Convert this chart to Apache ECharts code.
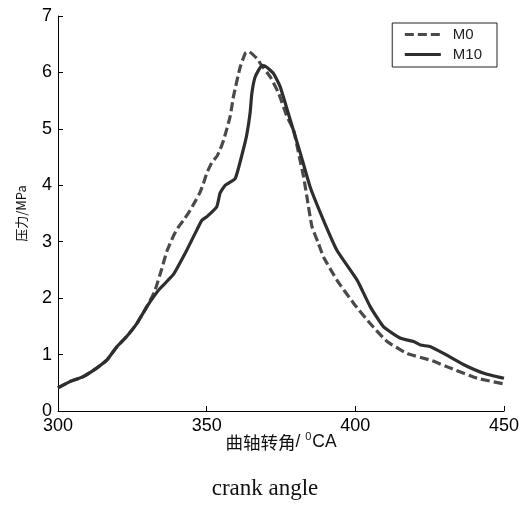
<!DOCTYPE html>
<html>
<head>
<meta charset="utf-8">
<script src="https://cdn.jsdelivr.net/npm/echarts@6/dist/echarts.min.js"></script>
<style>
html,body{margin:0;padding:0;background:#fff;}
#chart{width:530px;height:507px;}
</style>
</head>
<body>
<div id="chart"></div>
<script>
var seriesNames = ['M0', 'M10'];
var xTicks = [300, 350, 400, 450];
var yTicks = [0, 1, 2, 3, 4, 5, 6, 7];

var m0Angle = [300, 304, 308.5, 313, 316.4, 319.8, 323.1, 326.5, 329.9, 332.5, 334.9, 336.6, 338.8, 340.5, 342.2, 344, 346.1, 347.8, 348.9, 350, 351.7, 353.4, 354.5, 355.7, 357.9, 359, 361.3, 363, 364.1, 367.4, 368, 371.4, 374.2, 377, 379.2, 381, 382.6, 383.7, 385.4, 387.6, 389.3, 393.8, 399.4, 405, 410.7, 417.4, 425.3, 432, 441, 450];
var m0Pressure = [0.41, 0.52, 0.61, 0.76, 0.90, 1.14, 1.32, 1.55, 1.85, 2.12, 2.52, 2.83, 3.10, 3.26, 3.38, 3.52, 3.71, 3.88, 4.03, 4.21, 4.40, 4.51, 4.63, 4.80, 5.22, 5.57, 6.10, 6.34, 6.37, 6.22, 6.16, 5.92, 5.63, 5.22, 4.98, 4.55, 4.15, 3.80, 3.27, 2.97, 2.73, 2.32, 1.91, 1.55, 1.23, 1.02, 0.90, 0.76, 0.58, 0.48];

var m10Angle = [300, 304, 308.5, 313, 316.4, 319.8, 323.1, 326.5, 329.9, 332.5, 334.3, 338.8, 343.3, 346.7, 348.4, 350, 353.4, 354.5, 356.2, 359.6, 362.3, 363.5, 364.6, 365.2, 366.3, 368.6, 370, 372.5, 374.7, 378.1, 381.5, 384.8, 389.3, 393.8, 400.6, 405, 409.5, 415.2, 419.6, 421.9, 425.3, 429.7, 436.5, 443.2, 450];
var m10Pressure = [0.41, 0.52, 0.61, 0.76, 0.90, 1.14, 1.32, 1.55, 1.85, 2.05, 2.17, 2.42, 2.85, 3.21, 3.38, 3.44, 3.62, 3.86, 4.00, 4.12, 4.63, 4.90, 5.28, 5.63, 5.92, 6.12, 6.10, 5.98, 5.75, 5.16, 4.57, 3.97, 3.38, 2.85, 2.32, 1.85, 1.49, 1.29, 1.23, 1.17, 1.14, 1.02, 0.82, 0.67, 0.58];

function pairs(xs, ys) {
  var out = [];
  for (var i = 0; i < xs.length; i++) out.push([xs[i], ys[i]]);
  return out;
}

var chart = echarts.init(document.getElementById('chart'), null, {renderer: 'canvas'});
chart.setOption({
  animation: false,
  backgroundColor: '#fff',
  grid: {left: 58, right: 26, top: 16, bottom: 96, containLabel: false},
  legend: {
    right: 33, top: 23,
    orient: 'vertical',
    data: seriesNames,
    borderColor: '#222', borderWidth: 1, borderRadius: 0,
    padding: [4, 15, 5, 11],
    itemWidth: 36, itemHeight: 14, itemGap: 5,
    itemStyle: {opacity: 0},
    lineStyle: {width: 3.2},
    textStyle: {fontFamily: 'Liberation Sans, Arial', fontSize: 15, color: '#222', padding: [0, 0, 0, 7]}
  },
  xAxis: {
    type: 'value', min: xTicks[0], max: xTicks[xTicks.length - 1], interval: 50,
    name: '{a|曲轴转角}{b|/ }{s|0}{b|CA}', nameLocation: 'middle', nameGap: 20,
    nameMoveOverlap: false,
    nameTextStyle: {
      color: '#111',
      rich: {
        a: {fontFamily: 'Noto Sans CJK SC', fontSize: 17.5, color: '#111', lineHeight: 22},
        b: {fontFamily: 'Liberation Sans, Arial', fontSize: 17.5, color: '#111', lineHeight: 22},
        s: {fontFamily: 'Liberation Sans, Arial', fontSize: 11, color: '#111', lineHeight: 22, verticalAlign: 'top', padding: [0, 1, 8, 0]}
      }
    },
    axisLine: {lineStyle: {color: '#000', width: 1}},
    axisTick: {inside: true, length: 5, lineStyle: {color: '#000'}},
    axisLabel: {margin: 6, fontFamily: 'Liberation Sans, Arial', fontSize: 18, color: '#000'},
    splitLine: {show: false}
  },
  yAxis: {
    type: 'value', min: yTicks[0], max: yTicks[yTicks.length - 1], interval: 1,
    name: '压力/MPa', nameLocation: 'middle', nameGap: 30, nameRotate: 90,
    nameMoveOverlap: false,
    nameTextStyle: {fontFamily: 'Noto Sans CJK SC', fontSize: 13, color: '#111'},
    axisLine: {lineStyle: {color: '#000', width: 1}},
    axisTick: {inside: true, length: 5, lineStyle: {color: '#000'}},
    axisLabel: {margin: 6, fontFamily: 'Liberation Sans, Arial', fontSize: 18, color: '#000'},
    splitLine: {show: false}
  },
  graphic: [{
    type: 'text', left: 'center', top: 477,
    style: {text: 'crank angle', font: '23px "Liberation Serif", "Times New Roman", serif', fill: '#111'}
  }],
  series: [{
    name: seriesNames[0], type: 'line', data: pairs(m0Angle, m0Pressure),
    showSymbol: false, symbol: 'none', smooth: 0.15,
    lineStyle: {color: '#4a4a4a', width: 3.2, type: [9, 4]},
    itemStyle: {color: '#4a4a4a'}
  }, {
    name: seriesNames[1], type: 'line', data: pairs(m10Angle, m10Pressure),
    showSymbol: false, symbol: 'none', smooth: 0.15,
    lineStyle: {color: '#2e2e2e', width: 3.2, type: 'solid'},
    itemStyle: {color: '#2e2e2e'}
  }]
});
</script>
</body>
</html>
